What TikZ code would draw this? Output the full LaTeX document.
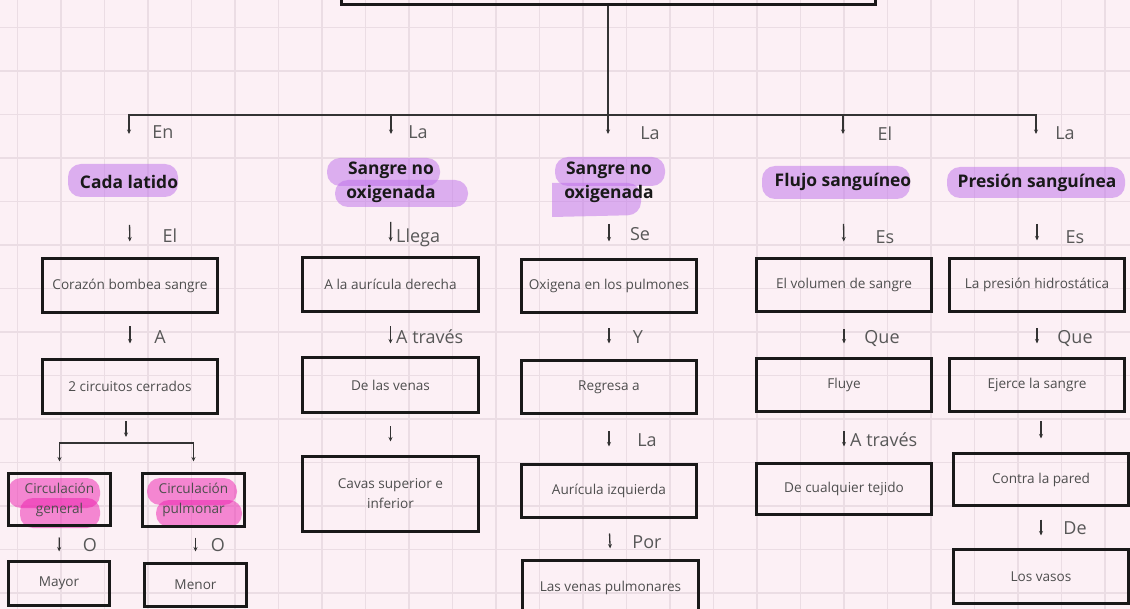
\documentclass[tikz,border=0pt]{standalone}
\usepackage{fontspec}
\setmainfont{Open Sans}
\usetikzlibrary{arrows.meta}
\definecolor{PaperPink}{RGB}{252,240,245}
\definecolor{GridPink}{RGB}{235,221,228}
\definecolor{BoxText}{RGB}{78,78,78}
\definecolor{LinkText}{RGB}{88,88,88}
\definecolor{MarkerPurple}{RGB}{190,110,235}
\definecolor{MarkerPink}{RGB}{238,30,175}
\tikzstyle{conceptBox}=[draw=black!90, line width=3pt, minimum width=175pt, minimum height=54pt, inner sep=2pt, align=center, text=BoxText, font=\fontsize{13.6}{20}\selectfont]
\tikzstyle{titleNode}=[inner sep=0pt, align=center, text=black!90, font=\fontsize{17.4}{24}\selectfont\bfseries]
\tikzstyle{linkLabel}=[inner sep=0pt, text=LinkText, font=\fontsize{18}{20}\selectfont]
\tikzstyle{linkArrow}=[-{Stealth[length=4.5pt,width=4pt]}, line width=1.3pt, draw=black!80]
\tikzstyle{treeLine}=[line width=1.3pt, draw=black!80]
\tikzstyle{purpleMark}=[fill=MarkerPurple, fill opacity=.5, rounded corners=13pt]
\tikzstyle{pinkMark}=[fill=MarkerPink, fill opacity=.5, rounded corners=13pt]

\begin{document}
\begin{tikzpicture}[x=1pt, y=-1pt]

        \useasboundingbox (0,0) rectangle (1130,609);

        % Paper with grid
        \fill[PaperPink] (0,0) rectangle (1130,609);
        \foreach \gx in {0,...,25}
            \draw[GridPink, line width=1.2pt] ({17.5+43.5*\gx},0) -- ({17.5+43.5*\gx},609);
        \foreach \gy in {0,...,13}
            \draw[GridPink, line width=1.2pt] (0,{27.5+43.5*\gy}) -- (1130,{27.5+43.5*\gy});

        % Main box and branches
        \node[conceptBox, minimum width=534pt, minimum height=43pt] (main) at (608,-17) {};
        \coordinate (hub) at (608,115);
        \coordinate (e1) at (129,134);
        \coordinate (e2) at (391,134);
        \coordinate (e3) at (608,134);
        \coordinate (e4) at (843,134);
        \coordinate (e5) at (1036,134);

        \draw[treeLine] (main) -- (hub);
        \draw[linkArrow] (hub) -| (e1);
        \draw[linkArrow] (hub) -| (e2);
        \draw[linkArrow] (hub) -- (e3);
        \draw[linkArrow] (hub) -| (e4);
        \draw[linkArrow] (hub) -| (e5);

        \node[linkLabel] (l1) at (163,132) {En};
        \node[linkLabel] (l2) at (418,132) {La};
        \node[linkLabel] (l3) at (650,133) {La};
        \node[linkLabel] (l4) at (885,134) {El};
        \node[linkLabel] (l5) at (1065,133) {La};

        % Highlighted titles
        \fill[purpleMark] (68,164) rectangle (178,197);
        \fill[purpleMark] (327,158) rectangle (440,186);
        \fill[purpleMark] (335,180) rectangle (468,207);
        \fill[purpleMark] (555,157) rectangle (665,186);
        \fill[MarkerPurple, fill opacity=.5] (552,183) [rounded corners=13pt] -- (641,183) -- (641,215) [sharp corners] -- (552,217) -- cycle;
        \fill[purpleMark] (762,166) rectangle (910,199);
        \fill[purpleMark] (947,167) rectangle (1125,198);

        \node[titleNode] (t1) at (129,182) {Cada latido};
        \node[titleNode] (t2) at (391,182) {Sangre no\\oxigenada};
        \node[titleNode] (t3) at (609,182) {Sangre no\\oxigenada};
        \node[titleNode] (t4) at (843,182) {Flujo sanguíneo};
        \node[titleNode] (t5) at (1037,183) {Presión sanguínea};

        % Cada latido
        \fill[pinkMark] (8,478) rectangle (100,508);
        \fill[pinkMark] (20,498) rectangle (100,528);
        \fill[pinkMark] (147,478) rectangle (237,505);
        \fill[pinkMark] (156,500) rectangle (242,527);

        \node[conceptBox] (c1) at (130,285.5) {Corazón bombea sangre};
        \node[conceptBox] (c2) at (130,386.5) {2 circuitos cerrados};
        \node[conceptBox, minimum width=102pt, minimum height=52pt] (g1) at (59.5,499.5) {Circulación\\general};
        \node[conceptBox, minimum width=102pt, minimum height=53pt] (g2) at (193.5,500) {Circulación\\pulmonar};
        \node[conceptBox, minimum width=101pt, minimum height=44pt] (m1) at (59,583.5) {Mayor};
        \node[conceptBox, minimum width=102pt, minimum height=43pt] (m2) at (195.5,585) {Menor};
        \coordinate (split) at (126,443);

        \draw[linkArrow, shorten <=43pt, shorten >=15.5pt] (t1.center) -- (c1.north);
        \draw[linkArrow, shorten <=12.5pt, shorten >=14.5pt] (c1.south) -- (c2.north);
        \draw[linkArrow, shorten <=6.5pt, shorten >=6pt] (c2.south -| split) -- (split);
        \draw[linkArrow, shorten >=10.5pt] (split) -| (g1.north);
        \draw[linkArrow, shorten >=10.5pt] (split) -| (g2.north);
        \draw[linkArrow, shorten <=10.5pt, shorten >=8.5pt] (g1.south) -- (m1.north);
        \draw[linkArrow, shorten <=9.5pt, shorten >=10.5pt] (m2.north |- g2.south) -- (m2.north);

        \node[linkLabel] (l6) at (170,236) {El};
        \node[linkLabel] (l7) at (160,337) {A};
        \node[linkLabel] (l8) at (90,545) {O};
        \node[linkLabel] (l9) at (218,545) {O};

        % Sangre no oxigenada (1)
        \node[conceptBox, minimum width=176pt] (b1) at (390.5,284.5) {A la aurícula derecha};
        \node[conceptBox, minimum width=176pt, minimum height=55pt] (b2) at (390.5,385) {De las venas};
        \node[conceptBox, minimum width=176pt, minimum height=75pt] (b3) at (390.5,494) {Cavas superior e\\inferior};

        \draw[linkArrow, shorten <=40pt, shorten >=14.5pt] (t2.center) -- (b1.north);
        \draw[linkArrow, shorten <=13.5pt, shorten >=12.5pt] (b1.south) -- (b2.north);
        \draw[linkArrow, shorten <=12.5pt, shorten >=13.5pt] (b2.south) -- (b3.north);

        \node[linkLabel, anchor=west] (l10) at (396,238) {Llega};
        \node[linkLabel, anchor=west] (l11) at (396,337) {A través};

        % Sangre no oxigenada (2)
        \node[conceptBox, minimum height=53pt] (d1) at (609,286) {Oxigena en los pulmones};
        \node[conceptBox, minimum height=53pt] (d2) at (609,387) {Regresa a};
        \node[conceptBox, minimum height=53pt] (d3) at (609,491) {Aurícula izquierda};
        \node[conceptBox, minimum width=176pt, minimum height=56pt] (d4) at (610.5,588) {Las venas pulmonares};

        \draw[linkArrow, shorten <=42pt, shorten >=16.5pt] (t3.center) -- (d1.north);
        \draw[linkArrow, shorten <=14.5pt, shorten >=15.5pt] (d1.south) -- (d2.north);
        \draw[linkArrow, shorten <=16.5pt, shorten >=16.5pt] (d2.south) -- (d3.north);
        \draw[linkArrow, shorten <=14.5pt, shorten >=10pt] (d3.south) -- (d4.north);

        \node[linkLabel] (l12) at (640,234) {Se};
        \node[linkLabel] (l13) at (638,337) {Y};
        \node[linkLabel] (l14) at (647,440) {La};
        \node[linkLabel] (l15) at (647,542) {Por};

        % Flujo sanguineo
        \node[conceptBox, minimum height=53pt] (f1) at (844,285) {El volumen de sangre};
        \node[conceptBox, minimum height=53pt] (f2) at (844,385) {Fluye};
        \node[conceptBox, minimum height=51pt] (f3) at (844,489) {De cualquier tejido};

        \draw[linkArrow, shorten <=42pt, shorten >=15.5pt] (t4.center) -- (f1.north);
        \draw[linkArrow, shorten <=16.5pt, shorten >=13.5pt] (f1.south) -- (f2.north);
        \draw[linkArrow, shorten <=18.5pt, shorten >=15.5pt] (f2.south) -- (f3.north);

        \node[linkLabel] (l16) at (885,237) {Es};
        \node[linkLabel] (l17) at (882,339) {Que};
        \node[linkLabel, anchor=west] (l18) at (850,440) {A través};

        % Presion sanguinea
        \node[conceptBox, minimum height=53pt] (p1) at (1037,285) {La presión hidrostática};
        \node[conceptBox, minimum height=53pt] (p2) at (1037,385) {Ejerce la sangre};
        \node[conceptBox, minimum height=52pt] (p3) at (1041,479.5) {Contra la pared};
        \node[conceptBox] (p4) at (1041,576.5) {Los vasos};

        \draw[linkArrow, shorten <=41pt, shorten >=16.5pt] (t5.center) -- (p1.north);
        \draw[linkArrow, shorten <=15.5pt, shorten >=13.5pt] (p1.south) -- (p2.north);
        \draw[linkArrow, shorten <=8.5pt, shorten >=13.5pt] (p3.north |- p2.south) -- (p3.north);
        \draw[linkArrow, shorten <=12.5pt, shorten >=12.5pt] (p3.south) -- (p4.north);

        \node[linkLabel] (l19) at (1075,237) {Es};
        \node[linkLabel] (l20) at (1075,339) {Que};
        \node[linkLabel] (l21) at (1075,528) {De};

\end{tikzpicture}
\end{document}
